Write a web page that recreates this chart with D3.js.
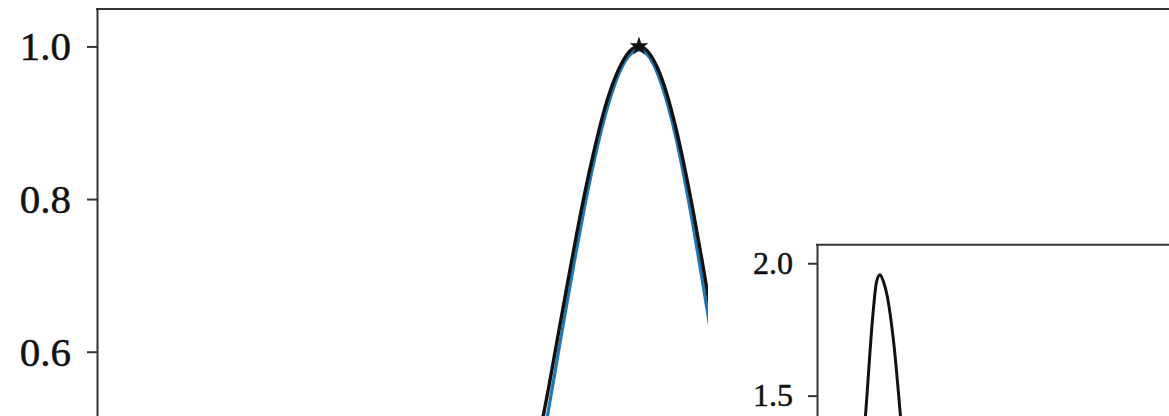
<!DOCTYPE html>
<html>
<head>
<meta charset="utf-8">
<script src="https://cdn.jsdelivr.net/npm/d3@7"></script>
<style>
  html, body { margin: 0; padding: 0; background: #fff; }
  svg { display: block; }
  .tick text { font-family: "Liberation Serif", "DejaVu Serif", serif; fill: #111; stroke: #111; stroke-width: 0.5px; }
</style>
</head>
<body>
<svg id="chart" width="1169" height="416"></svg>
<script>
// Main panel: normalised profile (black) and model (blue), peak marked with a star
const mainX = [-0.6, -0.55, -0.5, -0.45, -0.4, -0.35, -0.3, -0.25, -0.2, -0.15, -0.1, -0.05,
               0, 0.05, 0.1, 0.15, 0.2, 0.25, 0.3, 0.35, 0.4, 0.45];
const profileValues = [0.426, 0.491, 0.553, 0.619, 0.684, 0.748, 0.808, 0.862, 0.910, 0.948, 0.976, 0.994,
                       1.000, 0.993, 0.973, 0.941, 0.897, 0.844, 0.784, 0.718, 0.648, 0.578];
const modelValues   = [0.397, 0.460, 0.525, 0.594, 0.662, 0.728, 0.791, 0.848, 0.898, 0.939, 0.970, 0.989,
                       0.995, 0.988, 0.966, 0.931, 0.885, 0.828, 0.764, 0.694, 0.621, 0.548];
const peakPoint = { x: 0, y: 1.0 };
const mainTicks = [0.6, 0.8, 1.0];

// Inset panel: narrow peak
const insetX = [6, 7, 8, 8.5, 9, 9.5, 10, 11, 12, 13];
const insetValues = [1.10, 1.45, 1.81, 1.93, 1.957, 1.93, 1.88, 1.69, 1.40, 1.10];
const insetTicks = [1.5, 2.0];

const svg = d3.select("#chart");

// ---- main axes ----
const mLeft = 97, mTop = 9, mRight = 1181, mBottom = 504.4;
const x = d3.scaleLinear().domain([-3, 3]).range([mLeft, mRight]);
const y = d3.scaleLinear().domain([0.4, 1.049]).range([mBottom, mTop]);

const main = svg.append("g");

const line = d3.line()
  .x((d, i) => x(mainX[i]))
  .y(d => y(d))
  .curve(d3.curveMonotoneX);

main.append("path")
  .datum(modelValues)
  .attr("d", line)
  .attr("fill", "none")
  .attr("stroke", "#1f77b4")
  .attr("stroke-width", 3.2);

main.append("path")
  .datum(profileValues)
  .attr("d", line)
  .attr("fill", "none")
  .attr("stroke", "#111")
  .attr("stroke-width", 3.4);

main.append("path")
  .attr("d", d3.symbol().type(d3.symbolStar).size(110)())
  .attr("transform", `translate(${x(peakPoint.x)},${y(peakPoint.y)})`)
  .attr("fill", "#111");

const yAxis = main.append("g")
  .attr("transform", `translate(${mLeft},0)`)
  .call(d3.axisLeft(y).tickValues(mainTicks).tickFormat(d3.format(".1f"))
        .tickSize(10).tickSizeOuter(0).tickPadding(16));
yAxis.select(".domain").attr("stroke", "#333").attr("stroke-width", 2);
yAxis.selectAll(".tick line").attr("stroke", "#333").attr("stroke-width", 2);
yAxis.selectAll(".tick text").attr("font-size", 41).attr("dy", "0.33em");

main.append("line")
  .attr("x1", mLeft - 1).attr("x2", mRight)
  .attr("y1", mTop).attr("y2", mTop)
  .attr("stroke", "#333").attr("stroke-width", 2);

// ---- inset axes ----
const iLeft = 817, iTop = 244.7, iRight = 1237, iBottom = 475.1;
const ix = d3.scaleLinear().domain([0, 60]).range([iLeft, iRight]);
const iy = d3.scaleLinear().domain([1.2, 2.07]).range([iBottom, iTop]);

const inset = svg.append("g");

// white backing behind the inset and its labels
inset.append("rect")
  .attr("x", 708).attr("y", 236)
  .attr("width", 1169 - 708).attr("height", 416 - 236)
  .attr("fill", "#fff");

inset.append("path")
  .datum(insetValues)
  .attr("d", d3.line()
    .x((d, i) => ix(insetX[i]))
    .y(d => iy(d))
    .curve(d3.curveMonotoneX))
  .attr("fill", "none")
  .attr("stroke", "#111")
  .attr("stroke-width", 3);

const iyAxis = inset.append("g")
  .attr("transform", `translate(${iLeft},0)`)
  .call(d3.axisLeft(iy).tickValues(insetTicks).tickFormat(d3.format(".1f"))
        .tickSize(9).tickSizeOuter(0).tickPadding(15));
iyAxis.select(".domain").attr("stroke", "#333").attr("stroke-width", 2);
iyAxis.selectAll(".tick line").attr("stroke", "#333").attr("stroke-width", 2);
iyAxis.selectAll(".tick text").attr("font-size", 32).attr("dy", "0.32em");

inset.append("line")
  .attr("x1", iLeft - 1).attr("x2", iRight)
  .attr("y1", iTop).attr("y2", iTop)
  .attr("stroke", "#333").attr("stroke-width", 2);
</script>
</body>
</html>
